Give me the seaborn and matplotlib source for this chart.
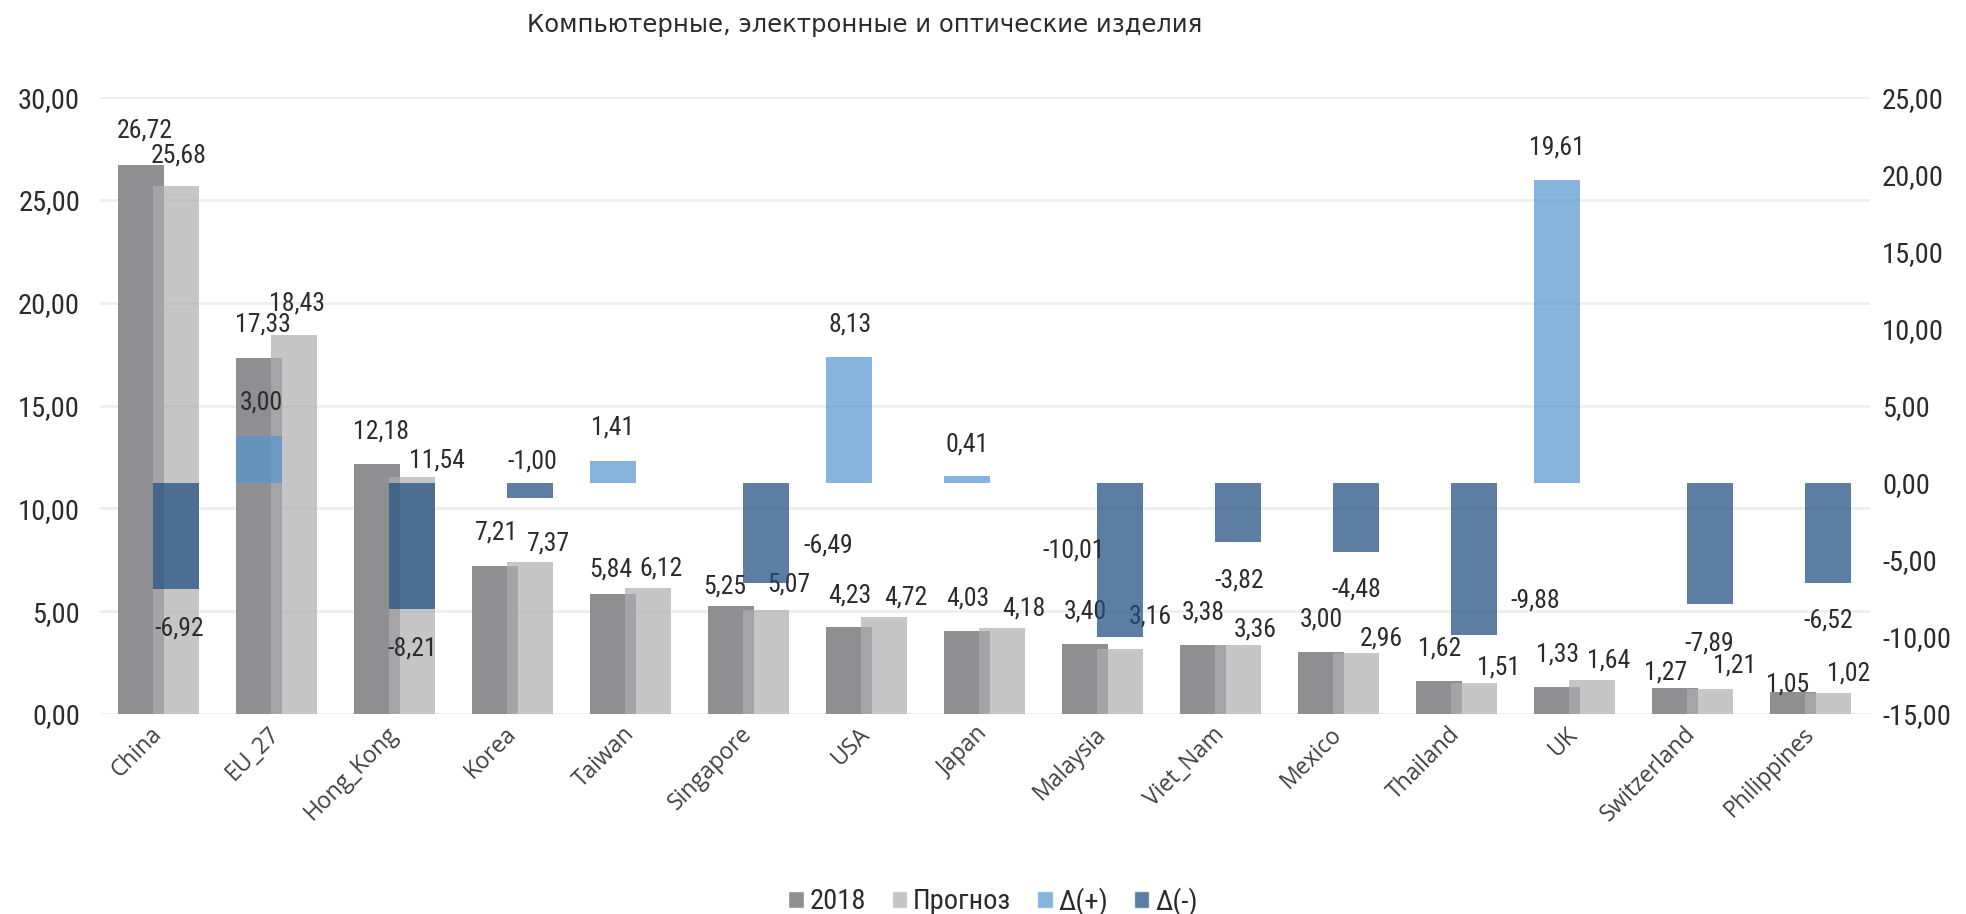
import numpy as np
import matplotlib
matplotlib.use('Agg')
import matplotlib.pyplot as plt
import seaborn as sns
from matplotlib.patches import Patch
from matplotlib.ticker import FuncFormatter

# data
countries = ['China', 'EU_27', 'Hong_Kong', 'Korea', 'Taiwan', 'Singapore', 'USA', 'Japan',
             'Malaysia', 'Viet_Nam', 'Mexico', 'Thailand', 'UK', 'Switzerland', 'Philippines']
val_2018 = [26.72, 17.33, 12.18, 7.21, 5.84, 5.25, 4.23, 4.03, 3.40, 3.38, 3.00, 1.62, 1.33, 1.27, 1.05]
val_forecast = [25.68, 18.43, 11.54, 7.37, 6.12, 5.07, 4.72, 4.18, 3.16, 3.36, 2.96, 1.51, 1.64, 1.21, 1.02]
delta = [-6.92, 3.00, -8.21, -1.00, 1.41, -6.49, 8.13, 0.41, -10.01, -3.82, -4.48, -9.88, 19.61, -7.89, -6.52]

delta_pos = [d if d > 0 else np.nan for d in delta]
delta_neg = [d if d < 0 else np.nan for d in delta]

# label offsets in pixels (dx, baseline above bar end), as placed in the reference
off_2018 = [(4, 27), (4, 26), (4, 25), (1, 26), (-2, 17), (-6, 13), (1, 25), (1, 26),
            (0, 26), (0, 25), (0, 26), (1, 25), (0, 25), (-9, 8), (-5, 1)]
off_forecast = [(3, 24), (3, 25), (25, 9), (18, 12), (13, 13), (23, 18), (22, 12), (22, 13),
                (30, 26), (17, 8), (25, 8), (25, 8), (17, 13), (25, 17), (21, 13)]
off_delta = [(3, -46), (2, 27), (0, -46), (2, 30), (0, 26), (62, 30), (1, 26), (0, 25),
             (-46, 80), (1, -46), (0, -45), (61, 28), (0, 26), (-1, -46), (0, -44)]

C_2018 = '#8f8f91'
C_FC = '#afafb1'
C_POS = '#5596cf'
C_NEG = '#1f4d7f'
TXT = '#2b2b2b'
W = 0.39
SHIFT = 0.148

sns.set_theme(style='white')
NUM_FONT = ['Roboto Condensed', 'Roboto', 'DejaVu Sans']
plt.rcParams['font.family'] = NUM_FONT


def fmt(v):
    return f'{v:.2f}'.replace('.', ',')


def draw(ax, values, color, alpha, shift):
    n0 = len(ax.patches)
    sns.barplot(x=countries, y=values, order=countries, color=color, alpha=alpha,
                width=W, saturation=1, errorbar=None, ax=ax)
    for p in ax.patches[n0:]:
        p.set_x(p.get_x() + shift)
        p.set_linewidth(0)


fig = plt.figure(figsize=(19.66, 9.14), dpi=100)
ax = fig.add_axes([99.5 / 1966, 1 - 714 / 914, 1770 / 1966, 616.8 / 914])
ax2 = ax.twinx()

draw(ax, val_2018, C_2018, 1.0, -SHIFT)
draw(ax, val_forecast, C_FC, 0.71, SHIFT)
draw(ax2, delta_pos, C_POS, 0.71, -SHIFT)
draw(ax2, delta_neg, C_NEG, 0.72, SHIFT)

ax.set_xlim(-0.5, len(countries) - 0.5)
ax.set_ylim(0, 30)
ax2.set_ylim(-15, 25)
ax.set_yticks(np.arange(0, 31, 5))
ax2.set_yticks(np.arange(-15, 26, 5))
ax.yaxis.set_major_formatter(FuncFormatter(lambda v, p: fmt(v)))
ax2.yaxis.set_major_formatter(FuncFormatter(lambda v, p: fmt(v)))
ax.yaxis.grid(True, color='#efeff1', linewidth=2)
ax.xaxis.grid(False)
ax2.grid(False)
ax.set_axisbelow(True)
for a in (ax, ax2):
    for s in a.spines.values():
        s.set_visible(False)
    a.set_xlabel('')
    a.set_ylabel('')
ax.tick_params(axis='y', length=0, pad=14, labelsize=20.5, labelcolor=TXT)
ax2.tick_params(axis='y', length=0, pad=9, labelsize=20.5, labelcolor=TXT)

ax.set_xticks(range(len(countries)))
ax.set_xticklabels(countries, rotation=45, ha='right', va='center', rotation_mode='anchor',
                   fontsize=16.5, color='#404040', family=['Open Sans', 'DejaVu Sans'])
ax.tick_params(axis='x', length=0, pad=12)

# value labels
for i, v in enumerate(val_2018):
    dx, dy = off_2018[i]
    ax.annotate(fmt(v), xy=(i - SHIFT, v), xytext=(dx, dy), textcoords='offset pixels',
                ha='center', va='baseline', fontsize=18.5, color=TXT)
for i, v in enumerate(val_forecast):
    dx, dy = off_forecast[i]
    ax.annotate(fmt(v), xy=(i + SHIFT, v), xytext=(dx, dy), textcoords='offset pixels',
                ha='center', va='baseline', fontsize=18.5, color=TXT)
for i, v in enumerate(delta):
    dx, dy = off_delta[i]
    xpos = i - SHIFT if v > 0 else i + SHIFT
    ax2.annotate(fmt(v), xy=(xpos, v), xytext=(dx, dy), textcoords='offset pixels',
                 ha='center', va='baseline', fontsize=18.5, color=TXT)

fig.text(865 / 1966, 1 - 25 / 914, 'Компьютерные, электронные и оптические изделия',
         ha='center', va='center', fontsize=17.5, color=TXT, family=['DejaVu Sans'])

handles = [Patch(facecolor=C_2018), Patch(facecolor=C_FC, alpha=0.71),
           Patch(facecolor=C_POS, alpha=0.71), Patch(facecolor=C_NEG, alpha=0.72)]
labels = ['2018', 'Прогноз', 'Δ(+)', 'Δ(-)']
fig.legend(handles, labels, loc='center', bbox_to_anchor=(0.505, 0.014), ncol=4,
           frameon=False, fontsize=20.5, handlelength=0.55, handleheight=0.55,
           handletextpad=0.2, columnspacing=0.9, labelcolor=TXT)

fig.savefig('out.png', dpi=100)
